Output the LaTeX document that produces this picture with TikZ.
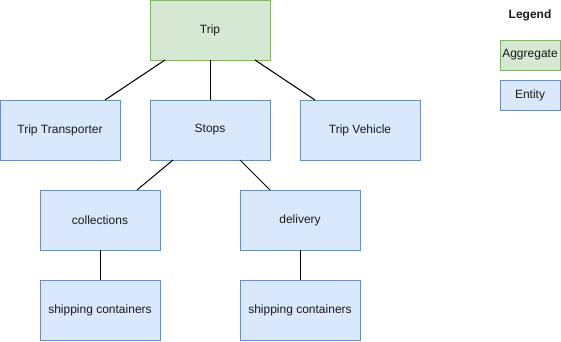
\documentclass[tikz,border=0pt]{standalone}
\usepackage{fontspec}
\setmainfont{Liberation Sans}
\usetikzlibrary{positioning}

\definecolor{aggfill}{HTML}{D5E8D4}
\definecolor{aggline}{HTML}{82B366}
\definecolor{entfill}{HTML}{DAE8FC}
\definecolor{entline}{HTML}{6C8EBF}

\begin{document}
\begin{tikzpicture}[x=1pt,y=-1pt,every node/.style={font=\fontsize{12}{14}\selectfont,text=black!90},
  aggbox/.style={draw=aggline,fill=aggfill,line width=1pt,minimum width=120pt,minimum height=60pt,inner sep=0pt,outer sep=0pt},
  entbox/.style={draw=entline,fill=entfill,line width=1pt,minimum width=120pt,minimum height=60pt,inner sep=0pt,outer sep=0pt},
  link/.style={draw=black,line width=1pt}]
\useasboundingbox (0,0) rectangle (561,341);
\node[aggbox] (trip) at (210,30) {Trip};
\node[entbox,below=40pt of trip] (stops) {Stops};
\node[entbox,left=30pt of stops] (transp) {Trip Transporter};
\node[entbox,right=30pt of stops] (veh) {Trip Vehicle};
\node[entbox] (coll) at (100,220) {collections};
\node[entbox] (deliv) at (300,220) {delivery};
\node[entbox,below=30pt of coll] (cont1) {shipping containers};
\node[entbox,below=30pt of deliv] (cont2) {shipping containers};
% legend
\node[font=\fontsize{12}{14}\selectfont\bfseries] (leg) at (530,15) {Legend};
\node[aggbox,minimum width=60pt,minimum height=30pt] (legagg) at (530,55) {Aggregate};
\node[entbox,minimum width=60pt,minimum height=30pt] (legent) at (530,95) {Entity};
\draw[link] ([xshift=15pt]trip.south west) -- ([xshift=-15pt]transp.north east);
\draw[link] (trip) -- (stops);
\draw[link] ([xshift=-15pt]trip.south east) -- ([xshift=15pt]veh.north west);
\draw[link] ([xshift=23pt]stops.south west) -- ([xshift=-23pt]coll.north east);
\draw[link] ([xshift=-30pt]stops.south east) -- ([xshift=30pt]deliv.north west);
\draw[link] (coll) -- (cont1);
\draw[link] (deliv) -- (cont2);
\end{tikzpicture}
\end{document}
